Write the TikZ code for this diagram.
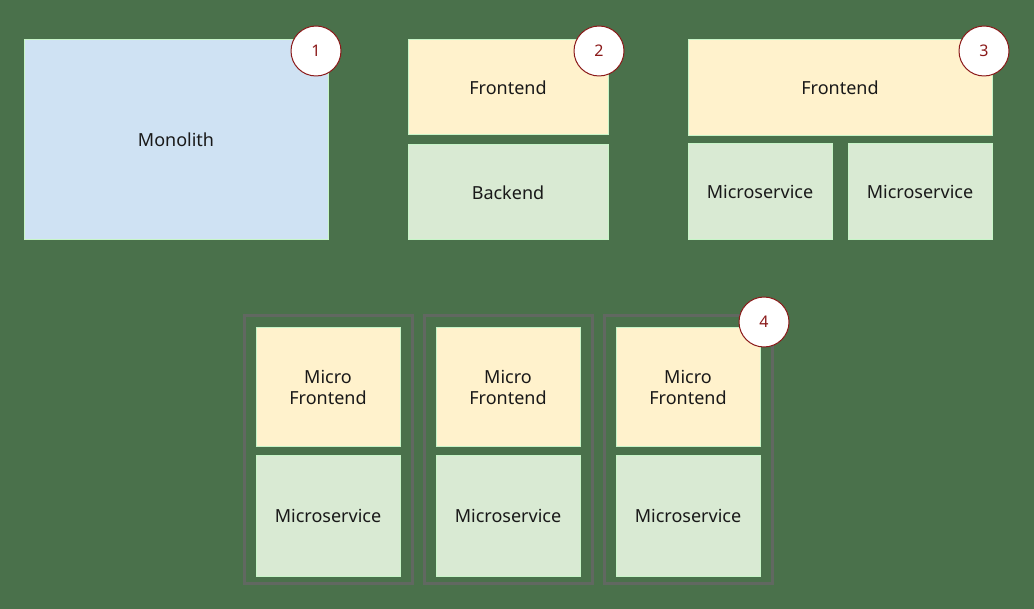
\documentclass[tikz,border=0pt]{standalone}
\usepackage{fontspec}
\setmainfont{Noto Sans}
\definecolor{bggreen}{HTML}{4A714B}
\definecolor{edgegreen}{HTML}{C8F5C8}
\definecolor{monoblue}{HTML}{CFE2F3}
\definecolor{feyellow}{HTML}{FFF2CC}
\definecolor{msgreen}{HTML}{D9EAD3}
\definecolor{framegray}{HTML}{616861}
\definecolor{numred}{HTML}{8B1A1A}
\begin{document}
\begin{tikzpicture}[x=1pt,y=-1pt,
	box/.style={draw=edgegreen, line width=1pt, inner sep=0pt, align=center, text=black!90, font=\fontsize{18}{21.5}\selectfont},
	mono/.style={box, fill=monoblue},
	fe/.style={box, fill=feyellow},
	ms/.style={box, fill=msgreen},
	frame/.style={draw=framegray, line width=3pt, inner sep=0pt, minimum width=168pt, minimum height=267pt},
	num/.style={circle, draw=numred, fill=white, line width=1pt, minimum size=50pt, inner sep=0pt, text=numred, font=\fontsize{16}{18}\selectfont}]

	\fill[bggreen] (0,0) rectangle (1034,609);

	% 1
	\node[mono, minimum width=304pt, minimum height=200pt] (monolith) at (176,140) {Monolith};
	\node[num] (n1) at (316,51) {1};

	% 2
	\node[fe, minimum width=200pt, minimum height=95pt] (fe2) at (508,87.5) {Frontend};
	\node[ms, minimum width=200pt, minimum height=95pt] (be2) at (508,192.5) {Backend};
	\node[num] (n2) at (599,51) {2};

	% 3
	\node[fe, minimum width=304pt, minimum height=96pt] (fe3) at (840,88) {Frontend};
	\node[ms, minimum width=144pt, minimum height=96pt] (ms3a) at (760,192) {Microservice};
	\node[ms, minimum width=144pt, minimum height=96pt] (ms3b) at (920,192) {Microservice};
	\node[num] (n3) at (984,51) {3};

	% 4
	\node[frame] (col1) at (328,449.5) {};
	\node[fe, minimum width=144pt, minimum height=119pt] (mfe1) at (328,387.5) {Micro\\Frontend};
	\node[ms, minimum width=144pt, minimum height=120pt] (ms41) at (328,516) {Microservice};

	\node[frame] (col2) at (508,449.5) {};
	\node[fe, minimum width=144pt, minimum height=119pt] (mfe2) at (508,387.5) {Micro\\Frontend};
	\node[ms, minimum width=144pt, minimum height=120pt] (ms42) at (508,516) {Microservice};

	\node[frame] (col3) at (688,449.5) {};
	\node[fe, minimum width=144pt, minimum height=119pt] (mfe3) at (688,387.5) {Micro\\Frontend};
	\node[ms, minimum width=144pt, minimum height=120pt] (ms43) at (688,516) {Microservice};
	\node[num] (n4) at (764,322) {4};
\end{tikzpicture}
\end{document}
